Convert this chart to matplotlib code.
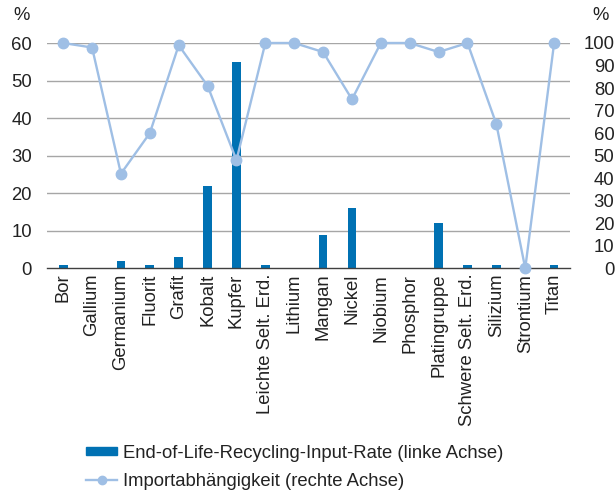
import matplotlib
matplotlib.use("Agg")
import matplotlib.pyplot as plt
import numpy as np
from matplotlib.lines import Line2D
from matplotlib.patches import Patch

categories = ["Bor", "Gallium", "Germanium", "Fluorit", "Grafit", "Kobalt", "Kupfer",
              "Leichte Selt. Erd.", "Lithium", "Mangan", "Nickel", "Niobium", "Phosphor",
              "Platingruppe", "Schwere Selt. Erd.", "Silizium", "Strontium", "Titan"]
recycling = [1, 0, 2, 1, 3, 22, 55, 1, 0, 9, 16, 0, 0, 12, 1, 1, 0, 1]
import_dep = [100, 98, 42, 60, 99, 81, 48, 100, 100, 96, 75, 100, 100, 96, 100, 64, 0, 100]
left_ticks = [0, 10, 20, 30, 40, 50, 60]
right_ticks = [0, 10, 20, 30, 40, 50, 60, 70, 80, 90, 100]

bar_color = "#0071b3"
line_color = "#9fbfe5"
text_color = "#222222"
fs = 13.3

plt.rcParams['font.family'] = ['Liberation Sans', 'DejaVu Sans']

W, H = 616, 492
fig = plt.figure(figsize=(W / 100, H / 100), dpi=100)
left_px, right_px, top_px, bot_px = 47.3, 570, 43, 268.3
ax = fig.add_axes([left_px / W, 1 - bot_px / H, (right_px - left_px) / W, (bot_px - top_px) / H])
x = np.arange(len(categories))

ax.set_ylim(0, 60)
ax.set_xlim(-0.55, len(categories) - 0.45)
ax.set_yticks(left_ticks)
for t in left_ticks[1:]:
    ax.axhline(t, color="#a6a6a6", lw=1.0, zorder=0)
ax.bar(x, recycling, width=0.3, color=bar_color, zorder=2)

for s in ["top", "right", "left"]:
    ax.spines[s].set_visible(False)
ax.spines["bottom"].set_color("#404040")
ax.spines["bottom"].set_linewidth(1.0)
ax.tick_params(axis="both", length=0, labelsize=fs, colors=text_color)
ax.tick_params(axis="y", pad=11)
ax.tick_params(axis="x", pad=4)
ax.set_xticks(x)
ax.set_xticklabels(categories, rotation=90)

ax2 = ax.twinx()
ax2.set_ylim(0, 100)
ax2.set_yticks(right_ticks)
ax2.set_yticklabels([str(v) for v in right_ticks])
for s in ["top", "right", "left", "bottom"]:
    ax2.spines[s].set_visible(False)
ax2.tick_params(axis="y", length=0, labelsize=fs, colors=text_color, pad=32)
for lab in ax2.get_yticklabels():
    lab.set_horizontalalignment("right")
ax2.plot(x, import_dep, color=line_color, lw=1.7, marker="o", markersize=7.5,
         clip_on=False, zorder=3)

fig.text(21.5 / W, 1 - 15 / H, "%", fontsize=fs, color=text_color, va="center", ha="center")
fig.text(600.5 / W, 1 - 15 / H, "%", fontsize=fs, color=text_color, va="center", ha="center")

handles = [Patch(color=bar_color, label="End-of-Life-Recycling-Input-Rate (linke Achse)"),
           Line2D([0], [0], color=line_color, lw=1.7, marker="o", markersize=6,
                  label="Importabhängigkeit (rechte Achse)")]
fig.legend(handles=handles, loc="center left", bbox_to_anchor=(86 / W, 1 - 467.4 / H),
           bbox_transform=fig.transFigure, frameon=False,
           fontsize=fs, handlelength=1.68, handleheight=0.3, handletextpad=0.33,
           labelspacing=0.58, borderaxespad=0, borderpad=0, labelcolor=text_color)

fig.savefig("out.png", dpi=100)
